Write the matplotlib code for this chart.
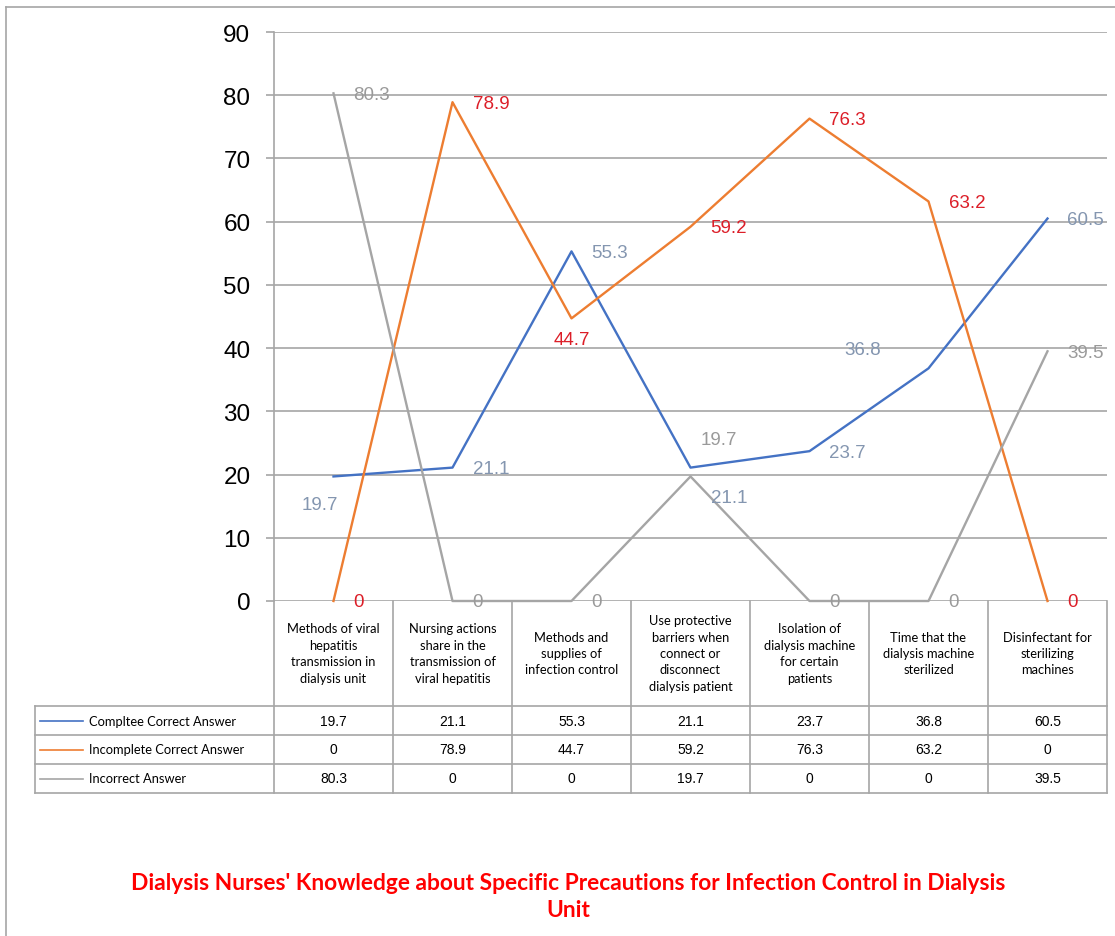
import numpy as np
import matplotlib
matplotlib.use("Agg")
import matplotlib.pyplot as plt
from matplotlib.lines import Line2D

categories = [
    "Methods of viral\nhepatitis\ntransmission in\ndialysis unit",
    "Nursing actions\nshare in the\ntransmission of\nviral hepatitis",
    "Methods and\nsupplies of\ninfection control",
    "Use protective\nbarriers when\nconnect or\ndisconnect\ndialysis patient",
    "Isolation of\ndialysis machine\nfor certain\npatients",
    "Time that the\ndialysis machine\nsterilized",
    "Disinfectant for\nsterilizing\nmachines",
]
series_names = ["Compltee Correct Answer", "Incomplete Correct Answer", "Incorrect Answer"]
complete = [19.7, 21.1, 55.3, 21.1, 23.7, 36.8, 60.5]
incomplete = [0, 78.9, 44.7, 59.2, 76.3, 63.2, 0]
incorrect = [80.3, 0, 0, 19.7, 0, 0, 39.5]
yticks = [0, 10, 20, 30, 40, 50, 60, 70, 80, 90]
title = "Dialysis Nurses' Knowledge about Specific Precautions for Infection Control in Dialysis\nUnit"

series = [complete, incomplete, incorrect]
line_colors = ["#4472C4", "#ED7D31", "#A5A5A5"]
label_colors = ["#8496B0", "#DC1E28", "#9A9A9A"]

W, H = 1115, 937
fig = plt.figure(figsize=(W / 100, H / 100), dpi=100)

ax = fig.add_axes([274 / W, 1 - 602 / H, 833 / W, 569 / H])
ax.set_xlim(-0.5, 6.5)
ax.set_ylim(0, 90)
ax.set_yticks(yticks)
ax.set_xticks([])
for s in ["top", "right", "bottom"]:
    ax.spines[s].set_visible(False)
ax.spines["left"].set_color("#A6A6A6")
ax.spines["left"].set_linewidth(1.2)
ax.grid(axis="y", color="#A6A6A6", linewidth=1.2)
ax.set_axisbelow(True)
ax.tick_params(axis="y", length=6, width=1.2, color="#A6A6A6", pad=11,
               labelsize=17.5)
for t in ax.get_yticklabels():
    t.set_fontfamily("Liberation Sans")

x = np.arange(len(categories))
for vals, c in zip(series, line_colors):
    ax.plot(x, vals, color=c, linewidth=1.7, clip_on=False, zorder=3)

# data labels: default to the right of the point, a few moved like in the original
offsets = {
    (0, 0): (-14, -28, "center"),
    (0, 3): (20, -30, "left"),
    (0, 5): (-48, 19, "right"),
    (1, 2): (0, -21, "center"),
    (2, 3): (10, 37, "left"),
}
for si, (vals, c) in enumerate(zip(series, label_colors)):
    for i, v in enumerate(vals):
        dx, dy, ha = offsets.get((si, i), (20, -1, "left"))
        ax.annotate(f"{v:g}", (i, v), xytext=(dx, dy), textcoords="offset pixels",
                    ha=ha, va="center", fontsize=13.5, color=c,
                    family="Liberation Sans", annotation_clip=False, zorder=4)

# data table under the axis
tb = fig.add_axes([274 / W, 1 - 794 / H, 833 / W, 192 / H])
tb.set_xlim(-0.5, 6.5)
tb.set_ylim(794, 602)
tb.axis("off")
lc = "#A6A6A6"
x_left = -0.5 - (274 - 35) / 119.0
row_edges = [707, 736, 765, 794]
for b in np.arange(len(categories) + 1) - 0.5:
    tb.plot([b, b], [602, 794], color=lc, lw=1.2, clip_on=False)
tb.plot([x_left, x_left], [707, 794], color=lc, lw=1.2, clip_on=False)
for y in row_edges:
    tb.plot([x_left, 6.5], [y, y], color=lc, lw=1.2, clip_on=False)

for i, cat in enumerate(categories):
    tb.text(i, 654, cat, ha="center", va="center", fontsize=9.3,
            family="Lato", linespacing=1.45)
for r, (name, vals, c) in enumerate(zip(series_names, series, line_colors)):
    yc = (row_edges[r] + row_edges[r + 1]) / 2
    tb.plot([x_left + 0.04, x_left + 0.4], [yc, yc], color=c, lw=1.2, clip_on=False)
    tb.text(x_left + 0.45, yc, name, ha="left", va="center", fontsize=9.3,
            family="Lato")
    for i, v in enumerate(vals):
        tb.text(i, yc, f"{v:g}", ha="center", va="center", fontsize=10,
                family="Liberation Sans")

# outer frame lines and title
fig.add_artist(Line2D([6 / W, 1], [1 - 8 / H, 1 - 8 / H], color="#A6A6A6", lw=1.2))
fig.add_artist(Line2D([6 / W, 6 / W], [0, 1 - 8 / H], color="#A6A6A6", lw=1.2))
fig.text(568 / W, 1 - 897 / H, title, ha="center", va="center", color="#FF0000",
         fontsize=16.4, fontweight="bold", family="Lato", linespacing=1.35)

fig.savefig("out.png", dpi=100)
